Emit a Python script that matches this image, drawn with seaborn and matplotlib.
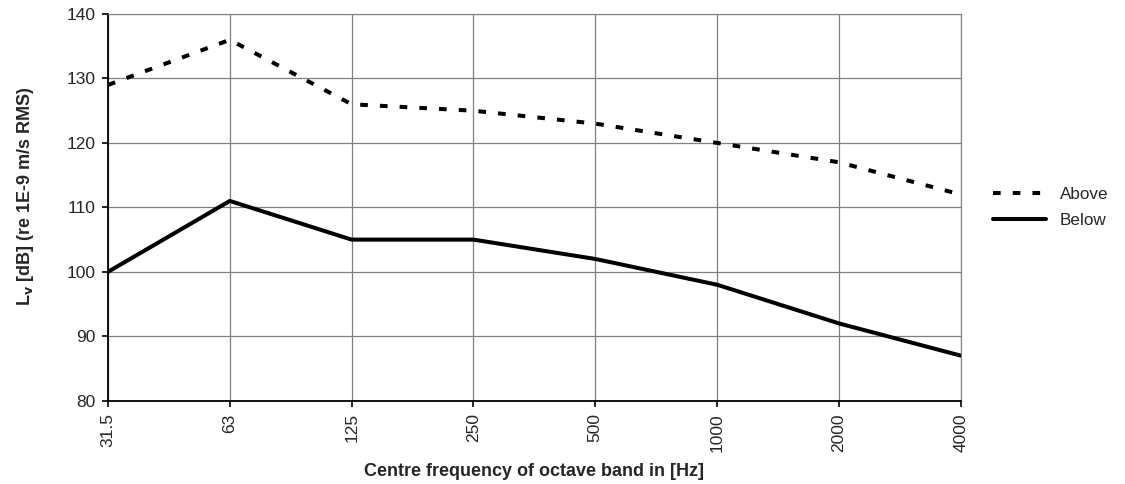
import pandas as pd
import matplotlib.pyplot as plt
import seaborn as sns

bands = ['31.5', '63', '125', '250', '500', '1000', '2000', '4000']
above = [129, 136, 126, 125, 123, 120, 117, 112]
below = [100, 111, 105, 105, 102, 98, 92, 87]

df = pd.DataFrame({'band': bands * 2,
                   'level': above + below,
                   'series': ['Above'] * len(bands) + ['Below'] * len(bands)})

sns.set_style('white')
plt.rcParams['font.family'] = ['Liberation Sans', 'DejaVu Sans']

fig, ax = plt.subplots(figsize=(11.25, 4.84), dpi=100)
fig.subplots_adjust(left=0.096, right=0.854, top=0.971, bottom=0.172)

sns.lineplot(data=df, x='band', y='level', style='series', color='black',
             dashes={'Above': (1.9, 3.0), 'Below': ''}, linewidth=2.9,
             sort=False, ax=ax)

ax.set_ylim(80, 140)
ax.set_xlim(0, len(bands) - 1)
ax.set_yticks(range(80, 141, 10))
ax.grid(True, color='#808080', linewidth=0.9)
for side in ['top', 'right']:
    ax.spines[side].set_color('#808080')
for side in ['left', 'bottom']:
    ax.spines[side].set_color('black')
    ax.spines[side].set_linewidth(1.3)
ax.tick_params(axis='both', direction='out', length=4, width=1.2, labelsize=12.5,
               left=True, bottom=True, color='black', pad=5)
plt.setp(ax.get_xticklabels(), rotation=90)

ax.set_xlabel('Centre frequency of octave band in [Hz]', fontsize=13,
              fontweight='bold', labelpad=8)
ax.set_ylabel('L$_\\mathbf{v}$ [dB] (re 1E-9 m/s RMS)', fontsize=13,
              fontweight='bold', labelpad=18)
ax.yaxis.set_label_coords(-0.085, 0.53)

ax.legend(title=None, frameon=False, loc='center left', bbox_to_anchor=(1.02, 0.5),
          fontsize=12.3, handlelength=3.1, handletextpad=0.8, labelspacing=0.63)

plt.savefig('out.png')
